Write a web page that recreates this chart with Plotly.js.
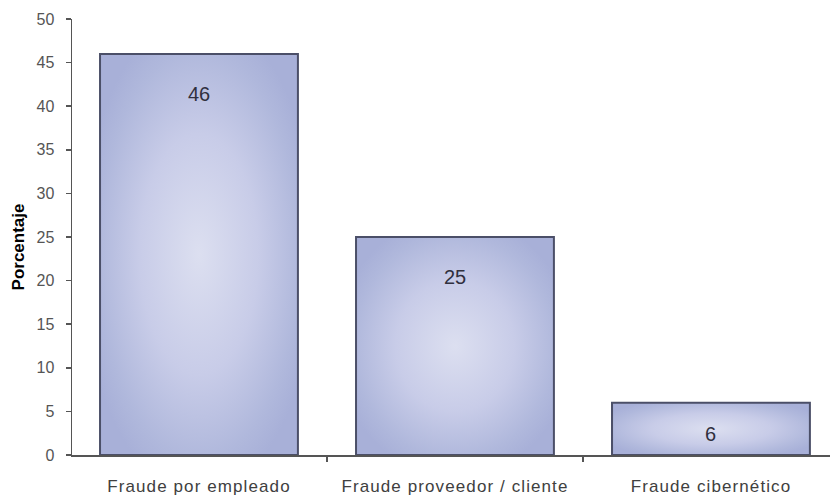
<!DOCTYPE html>
<html>
<head>
<meta charset="utf-8">
<script src="https://cdn.plot.ly/plotly-3.0.1.min.js"></script>
<style>html,body{margin:0;padding:0;background:#fff;}#chart{width:830px;height:498px;}</style>
</head>
<body>
<div id="chart"></div>
<script>
const categories = ["Fraude por empleado", "Fraude proveedor / cliente", "Fraude cibernético"];
const values = [46, 25, 6];
const yTicks = [0, 5, 10, 15, 20, 25, 30, 35, 40, 45, 50];

const plotH = 498 - 19 - 43;
const pxPerUnit = plotH / 50;

const annotations = categories.map((c, i) => ({
  x: c, y: values[i], xref: 'x', yref: 'y',
  text: String(values[i]), showarrow: false,
  yshift: -Math.min(40, 0.6 * values[i] * pxPerUnit),
  font: {family: 'Liberation Sans, Arial, sans-serif', size: 20, color: '#30303e'}
}));

const data = [{
  type: 'bar', x: categories, y: values,
  marker: {color: '#c3c8e6', line: {color: '#4b4f68', width: 2}},
  hoverinfo: 'none'
}];

const layout = {
  width: 830, height: 498,
  margin: {l: 72, r: 0, t: 19, b: 43},
  paper_bgcolor: '#ffffff', plot_bgcolor: '#ffffff',
  bargap: 0.227,
  showlegend: false,
  xaxis: {
    range: [-0.496, 2.465], type: 'category',
    showline: true, linecolor: '#555555', linewidth: 1.5,
    ticks: 'outside', tickson: 'boundaries', ticklen: 5, tickcolor: '#555555', tickwidth: 1.5,
    tickfont: {family: 'Liberation Sans, Arial, sans-serif', size: 17, color: '#404040'},
    ticklabelstandoff: 15,
    showgrid: false, zeroline: false, fixedrange: true
  },
  yaxis: {
    range: [0, 50], tickvals: yTicks, ticktext: yTicks.map(String),
    showline: true, linecolor: '#555555', linewidth: 1.5,
    ticks: 'outside', ticklen: 5, tickcolor: '#555555', tickwidth: 1.5,
    tickfont: {family: 'Liberation Sans, Arial, sans-serif', size: 16, color: '#555555'},
    ticklabelstandoff: 8,
    showgrid: false, zeroline: false, fixedrange: true,
    title: {text: 'Porcentaje', standoff: 2,
      font: {family: 'Liberation Sans, Arial, sans-serif', size: 17, color: '#000000', weight: 'bold'}}
  },
  annotations: annotations
};

Plotly.newPlot('chart', data, layout, {staticPlot: true}).then(gd => {
  const svg = gd.querySelector('svg.main-svg');
  const ns = 'http://www.w3.org/2000/svg';
  let defs = svg.querySelector('defs');
  if (!defs) { defs = document.createElementNS(ns, 'defs'); svg.insertBefore(defs, svg.firstChild); }
  const g = document.createElementNS(ns, 'radialGradient');
  g.setAttribute('id', 'barGrad');
  g.setAttribute('cx', '0.5'); g.setAttribute('cy', '0.5'); g.setAttribute('r', '0.6');
  [['0', '#dcdff0'], ['0.5', '#c8cce8'], ['0.85', '#b0b8dc'], ['1', '#a8b0d8']].forEach(([o, c]) => {
    const s = document.createElementNS(ns, 'stop');
    s.setAttribute('offset', o); s.setAttribute('stop-color', c);
    g.appendChild(s);
  });
  defs.appendChild(g);
  gd.querySelectorAll('.bars .point path').forEach(p => { p.style.fill = 'url(#barGrad)'; });
  gd.querySelectorAll('.xtick text').forEach(t => { t.style.letterSpacing = '1.1px'; });
  const yt = gd.querySelector('.g-ytitle text');
  if (yt) { yt.setAttribute('transform', (yt.getAttribute('transform') || '') + ' translate(-10,-5)'); }
});
</script>
</body>
</html>
